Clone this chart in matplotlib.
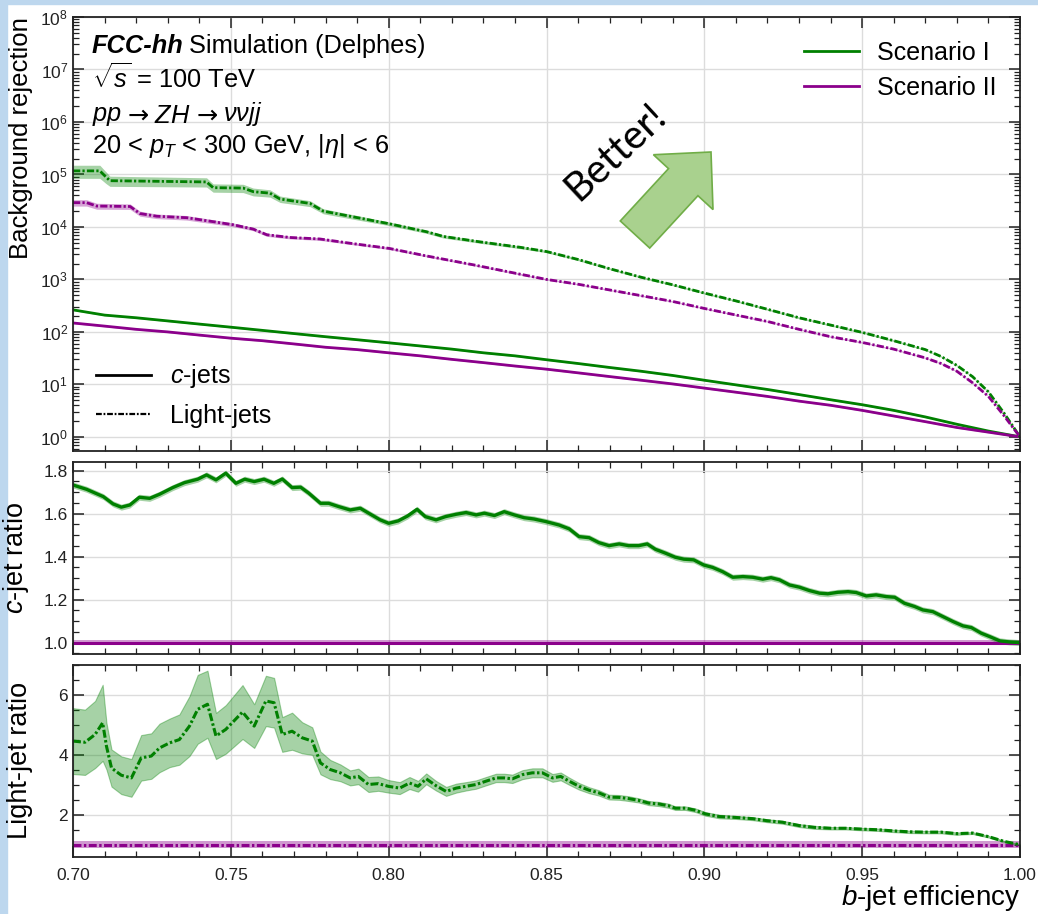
import numpy as np
import matplotlib
matplotlib.use('Agg')
import matplotlib.pyplot as plt
from matplotlib.patches import FancyArrow, Rectangle
from matplotlib.lines import Line2D
from matplotlib.ticker import LogLocator, MultipleLocator, FuncFormatter, NullFormatter

plt.rcParams['font.family'] = 'Liberation Sans'
plt.rcParams['mathtext.fontset'] = 'custom'
plt.rcParams['mathtext.rm'] = 'Liberation Sans'
plt.rcParams['mathtext.it'] = 'Liberation Sans:italic'
plt.rcParams['mathtext.bf'] = 'Liberation Sans:bold'
plt.rcParams['mathtext.sf'] = 'Liberation Sans'

GREEN = '#008000'
PURPLE = '#8b008b'
DASHDOT = (0, (2.6, 0.8, 0.8, 0.8))

# ---- rejection curves (top panel) ----
eff_c = [0.70, 0.71, 0.72, 0.73, 0.74, 0.75, 0.76, 0.77, 0.78, 0.79, 0.80,
         0.81, 0.82, 0.83, 0.84, 0.85, 0.86, 0.87, 0.88, 0.89, 0.90,
         0.91, 0.92, 0.93, 0.94, 0.95, 0.96, 0.97, 0.98, 0.99, 1.00]
rej_c_I = [263, 209, 186, 162, 141, 123, 107, 93, 81, 71, 62,
           54, 47, 40, 35, 29.5, 25, 21, 17.8, 14.8, 12.0,
           9.8, 8.0, 6.4, 5.1, 4.1, 3.2, 2.4, 1.74, 1.29, 1.0]
rej_c_II = [148, 129, 112, 100, 87, 76, 68, 59, 51, 46, 40,
            35, 30, 26, 22.4, 19.5, 16.6, 14.1, 12.0, 10.2, 8.5,
            7.1, 5.9, 4.8, 4.0, 3.2, 2.5, 1.95, 1.51, 1.23, 1.0]

eff_l_I = [0.700, 0.7085, 0.7105, 0.7117, 0.7423, 0.7444, 0.7539, 0.7571, 0.7624,
           0.7656, 0.7751, 0.7793, 0.7877, 0.8002, 0.8120, 0.8173, 0.8289, 0.8416,
           0.85, 0.86, 0.87, 0.88, 0.89, 0.90, 0.91, 0.92, 0.93, 0.94, 0.95,
           0.96, 0.97, 0.975, 0.98, 0.985, 0.99, 0.995, 1.00]
rej_l_I = [1.17e5, 1.17e5, 8.9e4, 7.6e4, 7.2e4, 5.6e4, 5.5e4, 4.7e4, 4.4e4,
           3.4e4, 2.8e4, 2.0e4, 1.6e4, 1.15e4, 8.1e3, 6.6e3, 5.2e3, 4.1e3,
           3.4e3, 2.4e3, 1.6e3, 1.1e3, 790, 550, 390, 270, 186, 135, 98,
           68, 46, 34, 23, 14, 7.2, 2.8, 1.0]
relerr_l_I = [0.28, 0.28, 0.25, 0.22, 0.20, 0.18, 0.18, 0.17, 0.16,
              0.14, 0.13, 0.11, 0.10, 0.08, 0.07, 0.07, 0.06, 0.06,
              0.05, 0.05, 0.04, 0.04, 0.04, 0.04, 0.04, 0.04, 0.04, 0.04, 0.04,
              0.04, 0.03, 0.03, 0.03, 0.03, 0.03, 0.02, 0.02]

eff_l_II = [0.700, 0.7043, 0.7075, 0.7181, 0.7212, 0.7265, 0.736, 0.7444, 0.7508,
            0.7571, 0.7614, 0.7687, 0.7782, 0.7877, 0.8002, 0.8120, 0.8268, 0.8416,
            0.85, 0.86, 0.87, 0.88, 0.89, 0.90, 0.91, 0.92, 0.93, 0.94, 0.95,
            0.96, 0.97, 0.975, 0.98, 0.985, 0.99, 0.995, 1.00]
rej_l_II = [2.9e4, 2.9e4, 2.5e4, 2.45e4, 1.8e4, 1.6e4, 1.5e4, 1.26e4, 1.1e4,
            9.1e3, 7.1e3, 6.3e3, 5.9e3, 4.9e3, 3.9e3, 2.8e3, 1.9e3, 1.26e3,
            1.0e3, 810, 630, 490, 380, 280, 210, 158, 112, 81, 63,
            47, 32, 25, 17.8, 10.7, 5.9, 2.5, 1.0]
relerr_l_II = [0.14, 0.14, 0.13, 0.12, 0.11, 0.10, 0.10, 0.09, 0.08,
               0.07, 0.07, 0.06, 0.06, 0.05, 0.05, 0.04, 0.04, 0.04,
               0.03, 0.03, 0.03, 0.03, 0.03, 0.03, 0.03, 0.03, 0.03, 0.03, 0.03,
               0.03, 0.03, 0.03, 0.03, 0.03, 0.02, 0.02, 0.02]

# ---- c-jet rejection ratio I / II ----
eff_cr = [0.7000, 0.7043, 0.7096, 0.7127, 0.7153, 0.7180, 0.7210, 0.7243, 0.7274,
          0.7316, 0.7353, 0.7395, 0.7423, 0.7453, 0.7484, 0.7516, 0.7544, 0.7574,
          0.7605, 0.7636, 0.7663, 0.7694, 0.7721, 0.7747, 0.7784, 0.7810, 0.7841,
          0.7878, 0.7910, 0.7946, 0.7973, 0.8000, 0.8030, 0.8060, 0.8090, 0.8116,
          0.8150, 0.8180, 0.8214, 0.8245, 0.8277, 0.8303, 0.8335, 0.8366, 0.8398,
          0.8429, 0.8460, 0.8498, 0.8540, 0.8572, 0.8603, 0.8635, 0.8666, 0.8698,
          0.8730, 0.8760, 0.8792, 0.8819, 0.8845, 0.8877, 0.8908, 0.8935, 0.8966,
          0.8998, 0.9026, 0.9058, 0.9090, 0.9122, 0.9153, 0.9185, 0.9211, 0.9238,
          0.9270, 0.9301, 0.9333, 0.9365, 0.9391, 0.9423, 0.9455, 0.9481, 0.9513,
          0.9544, 0.9576, 0.9603, 0.9634, 0.9666, 0.9692, 0.9724, 0.9756, 0.9788,
          0.9819, 0.9846, 0.9877, 0.9904, 0.9936, 0.9967, 1.0000]
ratio_c = [1.733, 1.713, 1.679, 1.645, 1.630, 1.640, 1.676, 1.671, 1.690,
           1.721, 1.744, 1.760, 1.780, 1.757, 1.788, 1.741, 1.760, 1.749,
           1.760, 1.741, 1.761, 1.721, 1.723, 1.695, 1.648, 1.648, 1.633,
           1.617, 1.625, 1.594, 1.571, 1.555, 1.566, 1.589, 1.620, 1.586,
           1.571, 1.586, 1.597, 1.605, 1.594, 1.602, 1.591, 1.609, 1.594,
           1.581, 1.575, 1.563, 1.547, 1.529, 1.493, 1.488, 1.465, 1.451,
           1.459, 1.451, 1.451, 1.459, 1.434, 1.416, 1.397, 1.388, 1.385,
           1.361, 1.350, 1.330, 1.304, 1.307, 1.304, 1.295, 1.302, 1.292,
           1.268, 1.258, 1.242, 1.230, 1.227, 1.234, 1.237, 1.233, 1.217,
           1.222, 1.214, 1.211, 1.183, 1.168, 1.152, 1.144, 1.121, 1.098,
           1.078, 1.070, 1.044, 1.028, 1.008, 1.003, 1.000]
ratio_c_err = 0.014

# ---- light-jet rejection ratio I / II ----
eff_lr = [0.7000, 0.7038, 0.7070, 0.7094, 0.7106, 0.7122, 0.7153, 0.7185, 0.7216,
          0.7248, 0.7274, 0.7306, 0.7337, 0.7369, 0.7395, 0.7426, 0.7453, 0.7484,
          0.7537, 0.7574, 0.7611, 0.7637, 0.7663, 0.7694, 0.7726, 0.7758, 0.7784,
          0.7815, 0.7847, 0.7878, 0.7904, 0.7936, 0.7967, 0.7999,
          0.8035, 0.8066, 0.8093, 0.8119, 0.8150, 0.8182, 0.8214, 0.8245, 0.8277,
          0.8308, 0.8340, 0.8366, 0.8392, 0.8424, 0.8455, 0.8487, 0.8519, 0.8545,
          0.8572, 0.8603, 0.8635, 0.8666, 0.8698, 0.8730, 0.8760, 0.8792, 0.8824,
          0.8856, 0.8887, 0.8908, 0.8940, 0.8972, 0.9003,
          0.9048, 0.9100, 0.9153, 0.9200, 0.9248, 0.9300, 0.9348, 0.9400, 0.9448,
          0.9500, 0.9550, 0.9600, 0.9650, 0.9700, 0.9750, 0.9800, 0.9850, 0.9900,
          0.9950, 1.0000]
ratio_l = [4.46, 4.42, 4.68, 5.07, 4.29, 3.56, 3.32, 3.23, 3.90,
           3.96, 4.23, 4.40, 4.51, 4.96, 5.52, 5.69, 4.63, 4.85,
           5.43, 4.96, 5.80, 5.74, 4.68, 4.79, 4.57, 4.46, 3.73,
           3.51, 3.40, 3.23, 3.28, 3.01, 3.04, 2.95,
           2.89, 3.06, 2.95, 3.20, 2.97, 2.78, 2.89, 2.95, 3.01,
           3.12, 3.23, 3.23, 3.20, 3.34, 3.40, 3.40, 3.23, 3.28,
           3.12, 2.95, 2.82, 2.73, 2.59, 2.58, 2.54, 2.48, 2.39,
           2.36, 2.30, 2.22, 2.22, 2.15, 2.03,
           1.94, 1.91, 1.87, 1.80, 1.75, 1.64, 1.58, 1.55, 1.55,
           1.52, 1.50, 1.46, 1.43, 1.42, 1.42, 1.37, 1.39, 1.27,
           1.11, 1.00]
ratio_l_err = [1.10, 1.09, 1.12, 1.27, 0.78, 0.62, 0.63, 0.63, 0.76,
               0.76, 0.81, 0.81, 0.84, 1.00, 1.15, 1.12, 0.77, 0.81,
               0.90, 0.73, 0.84, 0.83, 0.58, 0.62, 0.52, 0.46, 0.38,
               0.32, 0.28, 0.25, 0.26, 0.25, 0.24, 0.21,
               0.20, 0.20, 0.18, 0.18, 0.16, 0.15, 0.15, 0.14, 0.14,
               0.14, 0.14, 0.14, 0.14, 0.15, 0.15, 0.15, 0.13, 0.13,
               0.12, 0.11, 0.10, 0.09, 0.08, 0.08, 0.08, 0.07, 0.07,
               0.07, 0.07, 0.06, 0.06, 0.06, 0.06,
               0.06, 0.05, 0.05, 0.05, 0.05, 0.05, 0.05, 0.04, 0.04,
               0.04, 0.04, 0.04, 0.04, 0.04, 0.04, 0.04, 0.03, 0.03,
               0.02, 0.02]
ratio_ref_c_err = 0.012
ratio_ref_l_err = 0.12


def px_axes(fig, top, bottom, left=73, right=1020, W=1038, H=914):
    return fig.add_axes([left / W, (H - bottom) / H, (right - left) / W, (bottom - top) / H])


def style_axes(ax):
    ax.tick_params(which='both', direction='in', top=True, right=True,
                   labelsize=12.5, colors='#222222')
    ax.tick_params(which='major', length=8, width=1.1)
    ax.tick_params(which='minor', length=4, width=0.9)
    for s in ax.spines.values():
        s.set_linewidth(1.3)
        s.set_color('#222222')
    ax.grid(True, which='major', color='#dcdcdc', lw=1.0)
    ax.set_axisbelow(True)
    ax.set_xlim(0.70, 1.00)
    ax.xaxis.set_major_locator(MultipleLocator(0.05))
    ax.xaxis.set_minor_locator(MultipleLocator(0.01))


def text_chain(ax, x, y, pieces, size):
    # place consecutive text pieces side by side on one line
    prev = ax.text(x, y, pieces[0][0], transform=ax.transAxes, fontsize=size,
                   va='baseline', ha='left', **pieces[0][1])
    for s, kw in pieces[1:]:
        gap = kw.pop('gap', 4)
        prev = ax.annotate(s, xy=(1, 0), xycoords=prev, xytext=(gap, 0),
                           textcoords='offset points', fontsize=size,
                           va='bottom', ha='left', **kw)
    return prev


fig = plt.figure(figsize=(10.38, 9.14), dpi=100)
fig.patch.set_facecolor('white')
fig.add_artist(Rectangle((0, 0), 7 / 1038, 1, transform=fig.transFigure,
                         color='#bdd7ee', zorder=0))
fig.add_artist(Rectangle((0, 1 - 4 / 914), 1, 4 / 914, transform=fig.transFigure,
                         color='#bdd7ee', zorder=0))

ax1 = px_axes(fig, 17, 450.5)
ax2 = px_axes(fig, 462, 654)
ax3 = px_axes(fig, 665, 856.7)
for ax in (ax1, ax2, ax3):
    style_axes(ax)

# top panel
lw = 2.0
for x, y, col in ((eff_c, rej_c_I, GREEN), (eff_c, rej_c_II, PURPLE)):
    y = np.array(y)
    ax1.fill_between(x, y * 0.97, y * 1.03, color=col, alpha=0.35, lw=0)
    ax1.plot(x, y, color=col, lw=lw)
for x, y, e, col in ((eff_l_I, rej_l_I, relerr_l_I, GREEN),
                     (eff_l_II, rej_l_II, relerr_l_II, PURPLE)):
    y = np.array(y)
    e = np.array(e)
    ax1.fill_between(x, y * (1 - e), y * (1 + e), color=col, alpha=0.35, lw=0)
    ax1.plot(x, y, color=col, lw=lw, ls=DASHDOT)

ax1.set_yscale('log')
ax1.set_ylim(0.55, 1e8)
ax1.yaxis.set_major_locator(LogLocator(base=10, numticks=20))
ax1.yaxis.set_minor_locator(LogLocator(base=10, subs=np.arange(2, 10), numticks=200))
ax1.yaxis.set_major_formatter(FuncFormatter(lambda v, p: r'$10^{%d}$' % round(np.log10(v))))
ax1.yaxis.set_minor_formatter(NullFormatter())
ax1.tick_params(labelbottom=False)
ax1.set_ylabel('Background rejection', fontsize=18.5, loc='top')
ax1.yaxis.set_label_coords(-0.042, 1.0)

tx = (92 - 73) / 947
fs = 18.3
text_chain(ax1, tx, 1 - (53 - 17) / 433.5,
           [('FCC-hh', dict(fontweight='bold', fontstyle='italic')),
            ('Simulation (Delphes)', dict(gap=4))], fs)
ax1.text(tx, 1 - (88 - 17) / 433.5, r'$\sqrt{s}$ = 100 TeV',
         transform=ax1.transAxes, fontsize=fs, va='baseline')
text_chain(ax1, tx, 1 - (121 - 17) / 433.5,
           [(r'$pp$', {}),
            ('→', dict(family='DejaVu Sans', gap=4)),
            (r'$ZH$', dict(gap=4)),
            ('→', dict(family='DejaVu Sans', gap=4)),
            (r'$\nu\nu jj$', dict(gap=4))], fs)
ax1.text(tx, 1 - (153 - 17) / 433.5, r'20 < $p_T$ < 300 GeV, $|\eta|$ < 6',
         transform=ax1.transAxes, fontsize=fs, va='baseline')

scen = [Line2D([], [], color=GREEN, lw=2), Line2D([], [], color=PURPLE, lw=2)]
leg1 = ax1.legend(scen, ['Scenario I', 'Scenario II'], loc='upper right',
                  frameon=False, fontsize=18, handlelength=2.2, handletextpad=0.7,
                  borderaxespad=0.55, labelspacing=0.45)
ax1.add_artist(leg1)
kinds = [Line2D([], [], color='black', lw=2),
         Line2D([], [], color='black', lw=1.6, ls=DASHDOT)]
ax1.legend(kinds, [r'$c$-jets', 'Light-jets'], loc='lower left', frameon=False,
           fontsize=18, handlelength=2.2, handletextpad=0.8, borderaxespad=0.5,
           labelspacing=0.55, bbox_to_anchor=(0.0, 0.0))

# "Better!" arrow
arrow = FancyArrow(6.35, 6.795, 0.76, 0.825, width=0.40, head_width=0.81,
                   head_length=0.41, length_includes_head=True,
                   transform=fig.dpi_scale_trans, fc='#a9d18e', ec='#70ad47', lw=1.2)
fig.add_artist(arrow)
fig.text(615 / 1038, 1 - 152 / 914, 'Better!', fontsize=29, family='Lato',
         rotation=43, ha='center', va='center')

# c-jet ratio panel
ax2.fill_between([0.70, 1.00], 1 - ratio_ref_c_err, 1 + ratio_ref_c_err,
                 color=PURPLE, alpha=0.4, lw=0)
ax2.plot([0.70, 1.00], [1, 1], color=PURPLE, lw=2.2)
rc = np.array(ratio_c)
ax2.fill_between(eff_cr, rc - ratio_c_err, rc + ratio_c_err, color=GREEN, alpha=0.35, lw=0)
ax2.plot(eff_cr, rc, color=GREEN, lw=2.4)
ax2.set_ylim(0.947, 1.84)
ax2.yaxis.set_major_locator(MultipleLocator(0.2))
ax2.yaxis.set_minor_locator(MultipleLocator(0.05))
ax2.yaxis.set_major_formatter(FuncFormatter(lambda v, p: '%.1f' % v))
ax2.tick_params(labelbottom=False)
ax2.set_ylabel(r'$c$-jet ratio', fontsize=19.5)
ax2.yaxis.set_label_coords(-0.044, 0.5)

# light-jet ratio panel
ax3.fill_between([0.70, 1.00], 1 - ratio_ref_l_err, 1 + ratio_ref_l_err,
                 color=PURPLE, alpha=0.4, lw=0)
ax3.plot([0.70, 1.00], [1, 1], color=PURPLE, lw=2.2, ls=DASHDOT)
rl = np.array(ratio_l)
el = np.array(ratio_l_err)
ax3.fill_between(eff_lr, rl - el, rl + el, color=GREEN, alpha=0.35, lw=0.8)
ax3.plot(eff_lr, rl, color=GREEN, lw=2.2, ls=DASHDOT)
ax3.set_ylim(0.6, 7.0)
ax3.yaxis.set_major_locator(MultipleLocator(2))
ax3.yaxis.set_minor_locator(MultipleLocator(0.5))
ax3.xaxis.set_major_formatter(FuncFormatter(lambda v, p: '%.2f' % v))
ax3.tick_params(axis='x', pad=8)
ax3.set_ylabel('Light-jet ratio', fontsize=19.5)
ax3.yaxis.set_label_coords(-0.042, 0.5)
ax3.set_xlabel(r'$b$-jet efficiency', fontsize=20, loc='right')
ax3.xaxis.set_label_coords(1.0, -0.135)

fig.savefig('out.png', dpi=100)
